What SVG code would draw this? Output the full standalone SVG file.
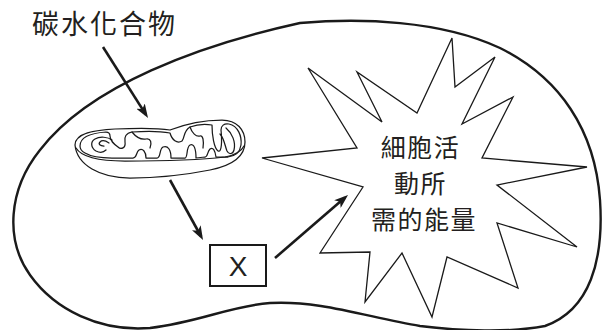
<svg xmlns="http://www.w3.org/2000/svg" width="604" height="330" viewBox="0 0 604 330">
  <style>
    .cell { fill: none; stroke: #1a1a1a; stroke-width: 2.4; }
    .burst { fill: #ffffff; stroke: #1a1a1a; stroke-width: 1.3; stroke-linejoin: miter; }
    .mito { fill: none; stroke: #1a1a1a; stroke-width: 1.25; stroke-linejoin: round; stroke-linecap: round; }
    .arrow { fill: none; stroke: #1a1a1a; stroke-width: 2.6; marker-end: url(#head); }
    .box { fill: #ffffff; stroke: #1a1a1a; stroke-width: 2; }
    .cjk { font-family: "Noto Sans CJK TC", "Noto Sans CJK SC", sans-serif; font-size: 27px; fill: #231f20; }
    .burst-text { font-size: 25px; letter-spacing: 1.5px; }
    .lat { font-family: "Liberation Sans", Arial, sans-serif; font-size: 28px; fill: #231f20; }
  </style>
  <defs>
    <marker id="head" viewBox="0 0 14 10" refX="10" refY="5" markerWidth="14" markerHeight="10" markerUnits="userSpaceOnUse" orient="auto">
      <path d="M0,0 L14,5 L0,10 L3.5,5 Z" fill="#1a1a1a"/>
    </marker>
  </defs>

  <!-- cell membrane -->
  <g id="cell">
    <path class="cell" d="M300,23 C360,18 440,20 500,48 C560,78 595,130 600,200 C604,260 590,310 545,326 C510,333 460,331 420,326 C370,318 320,300 270,303 C230,306 200,322 150,328 C100,332 55,310 30,275 C5,240 8,190 40,150 C90,85 200,45 300,23 Z"/>
  </g>

  <!-- energy burst -->
  <g id="energy">
    <polygon class="burst" points="262,158 357,148 308,68 382,122 357,72 417,113 452,38 455,87 495,57 462,124 513,97 482,158 587,167 497,185 577,247 497,223 518,288 447,257 432,317 402,253 365,302 370,252 320,253 363,187"/>
    <text class="cjk burst-text" text-anchor="middle">
      <tspan x="424" y="157">細胞活</tspan>
      <tspan x="424" y="193">動所</tspan>
      <tspan x="424" y="229">需的能量</tspan>
    </text>
  </g>

  <!-- carbohydrate label -->
  <g id="carbohydrate">
    <text class="cjk" x="32" y="34" letter-spacing="2">碳水化合物</text>
  </g>

  <!-- mitochondrion -->
  <g id="mitochondrion">
    <!-- outer shell -->
    <path class="mito" d="M75,145 C75,133 95,130 115,129 C140,128 158,128 170,130 C180,126 200,120 222,120 C237,120 245,130 245,142 C245,158 230,166 210,170 C185,175 160,178 130,178 C100,178 77,165 75,145 Z"/>
    <!-- front lip of cut rim -->
    <path class="mito" d="M76,148 C82,158 100,161 125,161 C165,161 200,160 225,157 C236,155 242,150 244,146"/>
    <!-- inner membrane with cristae -->
    <path class="mito" d="M80,146 C80,137 92,133 106,132 C109,132 110,134 110,136 C110,141 114,144 118,147 C121,150 126,148 125,142 C124,137 126,133 132,132 C145,131 160,131 170,133 C172,140 177,144 182,141 C185,138 183,131 190,127 C198,124 205,124 212,125 C212,135 214,148 218,151 C222,153 222,140 221,130 C221,126 224,123 229,124 C238,126 242,136 241,145 C240,152 236,156 228,157 L216,157 C215,150 213,147 210,149 C207,152 208,157 205,157 L196,158 C196,149 194,143 190,145 C186,147 188,158 185,158 L171,158 C171,150 168,145 163,147 C159,149 161,158 157,158 L146,158 C146,152 143,148 139,150 C136,152 137,158 133,158 L112,158 C100,158 90,156 85,153 C81,151 80,149 80,146 Z"/>
    <!-- left nested folds -->
    <path class="mito" d="M112,140 C108,137 100,136 95,139 C90,142 91,148 96,151 C100,153 104,152 106,150"/>
    <path class="mito" d="M104,146 C100,146 98,144 100,142 C102,140 106,141 109,143"/>
    <!-- central folds -->
    <path class="mito" d="M132,132 C136,137 140,140 146,139 C151,138 152,143 150,148"/>
    <path class="mito" d="M190,127 C192,133 196,137 200,136 C203,135 204,141 203,148"/>
    <!-- right diagonal loop -->
    <path class="mito" d="M226,128 C232,133 236,142 234,150 C233,154 229,155 227,151 C225,146 224,138 220,134"/>
  </g>

  <!-- product X -->
  <g id="x-box">
    <rect class="box" x="210" y="245" width="56" height="41"/>
    <text class="lat" x="238" y="276" text-anchor="middle">X</text>
  </g>

  <!-- connectors -->
  <g id="connectors">
    <line class="arrow" x1="103" y1="47" x2="145.9" y2="114.6"/>
    <line class="arrow" x1="170" y1="180" x2="201.1" y2="236.5"/>
    <line class="arrow" x1="275" y1="258" x2="345" y2="197.6"/>
  </g>
</svg>
